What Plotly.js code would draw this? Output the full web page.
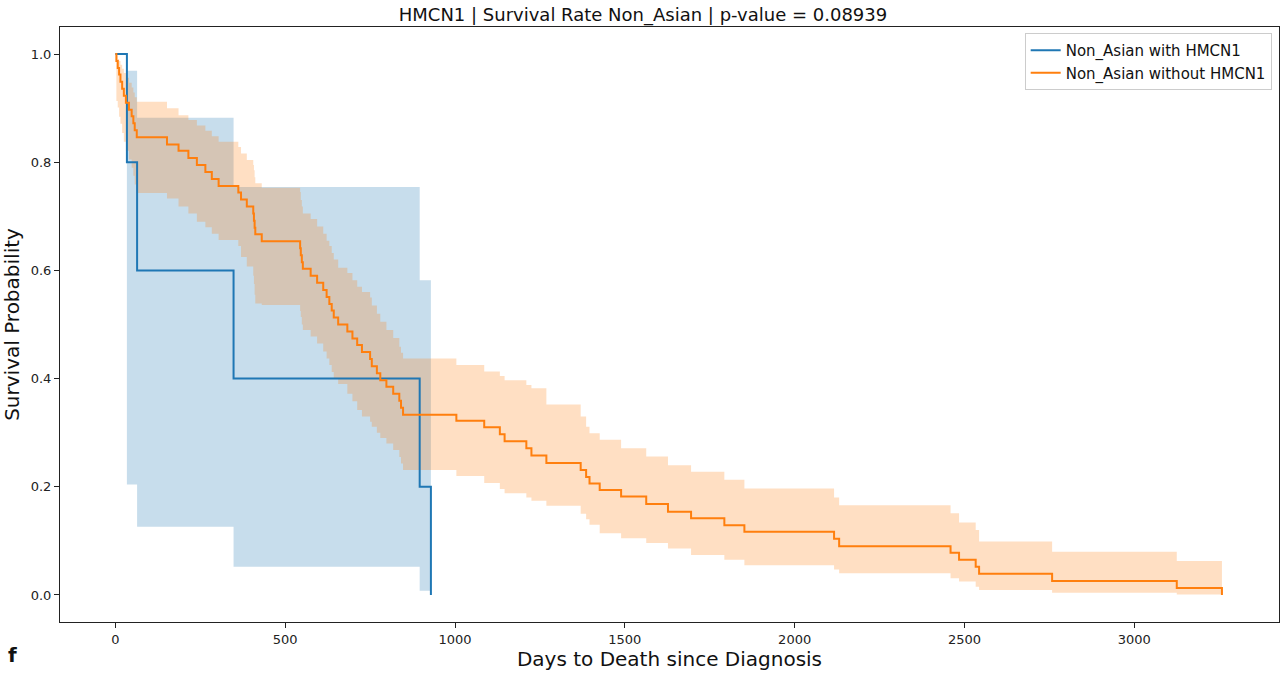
<!DOCTYPE html>
<html>
<head>
<meta charset="utf-8">
<script src="https://cdn.plot.ly/plotly-3.0.1.min.js"></script>
<style>html,body{margin:0;padding:0;background:#fff;}#chart{width:1287px;height:678px;}</style>
</head>
<body>
<div id="chart"></div>
<script>
// ---- data ----
const seriesNames = ["Non_Asian with HMCN1", "Non_Asian without HMCN1"];
const chartTitle = "HMCN1 | Survival Rate Non_Asian | p-value = 0.08939";
const xTitle = "Days to Death since Diagnosis";
const yTitle = "Survival Probability";
const xTicks = [0, 500, 1000, 1500, 2000, 2500, 3000];
const yTicks = [0.0, 0.2, 0.4, 0.6, 0.8, 1.0];

// with HMCN1
const daysWith = [0, 34, 64, 348, 896, 929];
const survWith = [1.0, 0.8, 0.6, 0.4, 0.2, 0.0];
const lowerWith = [1.0, 0.204, 0.126, 0.052, 0.008, 0.008];
const upperWith = [1.0, 0.969, 0.882, 0.754, 0.582, 0.582];

// without HMCN1
const daysWithout = [0, 3, 7, 11, 15, 20, 25, 31, 40, 48,
  53, 57, 63, 152, 186, 215, 240, 265, 284, 304,
  362, 370, 387, 406, 408, 410, 412, 431, 544, 546,
  549, 552, 575, 594, 612, 622, 630, 637, 643, 656,
  683, 698, 712, 726, 750, 755, 770, 780, 798, 818,
  836, 841, 847, 1004, 1086, 1132, 1146, 1210, 1225, 1269,
  1370, 1386, 1396, 1426, 1489, 1563, 1627, 1695, 1793, 1852,
  2116, 2131, 2459, 2484, 2533, 2543, 2758, 3125, 3258];
const survWithout = [1.0, 0.987, 0.974, 0.962, 0.949, 0.936, 0.923, 0.910, 0.897, 0.885,
  0.872, 0.859, 0.846, 0.833, 0.821, 0.808, 0.795, 0.782, 0.769, 0.756,
  0.744, 0.731, 0.718, 0.705, 0.692, 0.679, 0.667, 0.654, 0.641, 0.628,
  0.615, 0.603, 0.590, 0.577, 0.564, 0.551, 0.538, 0.526, 0.513, 0.500,
  0.487, 0.474, 0.462, 0.449, 0.436, 0.423, 0.410, 0.397, 0.385, 0.372,
  0.359, 0.346, 0.333, 0.322, 0.310, 0.297, 0.284, 0.271, 0.258, 0.244,
  0.231, 0.218, 0.206, 0.194, 0.182, 0.168, 0.154, 0.142, 0.129, 0.117,
  0.104, 0.090, 0.078, 0.065, 0.052, 0.039, 0.026, 0.013, 0.0];
const lowerWithout = [1.0, 0.913, 0.901, 0.884, 0.871, 0.854, 0.838, 0.821, 0.805, 0.790,
  0.775, 0.759, 0.743, 0.733, 0.718, 0.705, 0.690, 0.680, 0.668, 0.656,
  0.645, 0.625, 0.607, 0.590, 0.575, 0.555, 0.539, 0.536, 0.525, 0.514,
  0.500, 0.490, 0.478, 0.465, 0.450, 0.437, 0.425, 0.412, 0.400, 0.390,
  0.372, 0.358, 0.342, 0.330, 0.320, 0.311, 0.300, 0.290, 0.280, 0.268,
  0.255, 0.243, 0.231, 0.220, 0.207, 0.196, 0.188, 0.180, 0.174, 0.165,
  0.150, 0.140, 0.130, 0.114, 0.105, 0.096, 0.086, 0.074, 0.065, 0.055,
  0.047, 0.040, 0.031, 0.025, 0.015, 0.009, 0.004, 0.001, 0.001];
const upperWithout = [1.0, 0.998, 0.991, 0.987, 0.980, 0.973, 0.965, 0.956, 0.947, 0.938,
  0.929, 0.920, 0.912, 0.900, 0.887, 0.878, 0.868, 0.858, 0.848, 0.838,
  0.828, 0.816, 0.804, 0.795, 0.785, 0.772, 0.761, 0.753, 0.745, 0.730,
  0.718, 0.705, 0.695, 0.681, 0.668, 0.655, 0.645, 0.632, 0.620, 0.605,
  0.595, 0.582, 0.570, 0.560, 0.550, 0.535, 0.520, 0.505, 0.490, 0.475,
  0.459, 0.448, 0.437, 0.425, 0.413, 0.405, 0.397, 0.388, 0.382, 0.352,
  0.330, 0.311, 0.299, 0.287, 0.271, 0.256, 0.240, 0.228, 0.213, 0.197,
  0.180, 0.166, 0.151, 0.134, 0.120, 0.099, 0.080, 0.063, 0.063];

// ---- styling ----
const BLUE = "#1f77b4", ORANGE = "#ff7f0e";
const FONT = "DejaVu Sans, sans-serif";

function band(x, lo, hi, fillColor) {
  return [
    {x: x, y: lo, type: "scatter", mode: "lines", line: {shape: "hv", width: 0, color: fillColor},
     showlegend: false, hoverinfo: "skip"},
    {x: x, y: hi, type: "scatter", mode: "lines", line: {shape: "hv", width: 0, color: fillColor},
     fill: "tonexty", fillcolor: fillColor, showlegend: false, hoverinfo: "skip"}
  ];
}

const traces = [].concat(
  band(daysWith, lowerWith, upperWith, "rgba(31,119,180,0.25)"),
  band(daysWithout, lowerWithout, upperWithout, "rgba(255,127,14,0.25)"),
  [
    {x: daysWith, y: survWith, type: "scatter", mode: "lines", name: seriesNames[0],
     legendgroup: "a", line: {shape: "hv", color: BLUE, width: 2}},
    {x: daysWithout, y: survWithout, type: "scatter", mode: "lines", name: seriesNames[1],
     legendgroup: "b", line: {shape: "hv", color: ORANGE, width: 2}}
  ]
);

const axisCommon = {
  showgrid: false, zeroline: false, showline: true, mirror: true,
  linecolor: "#222", linewidth: 1, ticks: "outside", ticklen: 5, tickwidth: 1, tickcolor: "#222",
  tickfont: {family: FONT, size: 13, color: "#222"}
};

const layout = {
  width: 1287, height: 678,
  margin: {l: 60, r: 8, t: 27, b: 56},
  paper_bgcolor: "#fff", plot_bgcolor: "#fff",
  font: {family: FONT, color: "#111"},
  title: {text: chartTitle, font: {family: FONT, size: 18, color: "#111"},
          x: 0.4996, xref: "container", xanchor: "center", y: 0.979, yref: "container", yanchor: "middle"},
  xaxis: Object.assign({}, axisCommon, {
    range: [-163, 3426], tickvals: xTicks, ticktext: xTicks.map(String),
    title: {text: xTitle, font: {family: FONT, size: 20, color: "#111"}, standoff: 1}
  }),
  yaxis: Object.assign({}, axisCommon, {
    range: [-0.05, 1.05], tickvals: yTicks, ticktext: yTicks.map(v => v.toFixed(1)),
    title: {text: yTitle, font: {family: FONT, size: 20, color: "#111"}, standoff: 5}
  }),
  showlegend: true,
  legend: {x: 0.994, xanchor: "right", y: 0.99, yanchor: "top", traceorder: "normal",
           bgcolor: "rgba(255,255,255,0.85)", bordercolor: "#ccc", borderwidth: 1,
           font: {family: FONT, size: 15, color: "#111"}, itemwidth: 30, tracegroupgap: 2},
  annotations: [{text: "<b>f</b>", xref: "paper", yref: "paper", x: -0.039, y: -0.055,
                 xanchor: "center", yanchor: "middle", showarrow: false,
                 font: {family: FONT, size: 20, color: "#111"}}]
};

Plotly.newPlot("chart", traces, layout, {displayModeBar: false, staticPlot: true});
</script>
</body>
</html>
